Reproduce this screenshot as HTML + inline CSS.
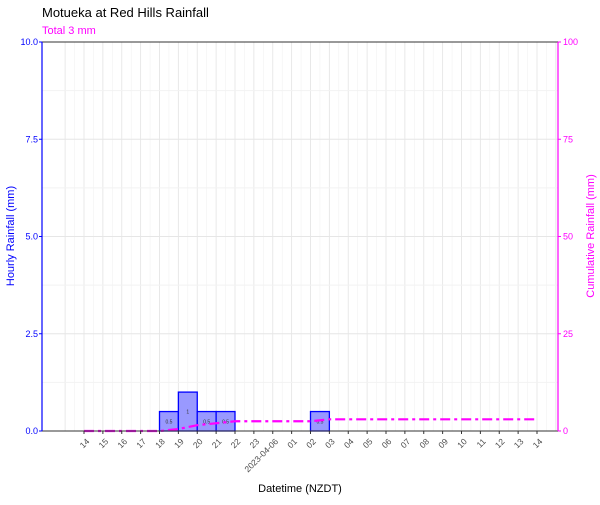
<!DOCTYPE html>
<html><head><meta charset="utf-8"><style>
body{margin:0;background:#fff}
svg{font-family:"Liberation Sans",sans-serif}
</style></head><body>
<svg id="c" width="600" height="500" xmlns="http://www.w3.org/2000/svg">
<text x="42" y="17" font-size="13" fill="#000">Motueka at Red Hills Rainfall</text>
<text x="42" y="34" font-size="11" fill="#ff00ff">Total 3 mm</text>
<g id="grid"></g><g id="bars"></g><g id="line"></g><g id="axes"></g>
<text transform="translate(14,236) rotate(-90)" text-anchor="middle" font-size="11" fill="#0000ff">Hourly Rainfall (mm)</text>
<text transform="translate(594,236) rotate(-90)" text-anchor="middle" font-size="11" fill="#ff00ff">Cumulative Rainfall (mm)</text>
<text x="300" y="492" text-anchor="middle" font-size="11" fill="#000">Datetime (NZDT)</text>
</svg>
<script>
const hourLabels=["14","15","16","17","18","19","20","21","22","23","2023-04-06","01","02","03","04","05","06","07","08","09","10","11","12","13","14"];
const barHours=[4,5,6,7,12];
const barValues=[0.5,1,0.5,0.5,0.5];
const cumValues=[0,0,0,0,0,0.5,1.5,2,2.5,2.5,2.5,2.5,2.5,3,3,3,3,3,3,3,3,3,3,3,3];
const leftTicks=[0,2.5,5,7.5,10];
const rightTicks=[0,25,50,75,100];
const L=42,R=558,T=42,B=431,x0=84,step=18.875;
const X=i=>x0+i*step, Y=v=>B-(v/10)*(B-T), Y2=v=>B-(v/100)*(B-T);
const NS="http://www.w3.org/2000/svg";
function mk(p,tag,a){const e=document.createElementNS(NS,tag);for(const k in a)e.setAttribute(k,a[k]);document.getElementById(p).appendChild(e);return e;}
for(let h=-2;h<=51;h++){const x=x0+h*step/2;if(x<=L||x>=R)continue;
 const g=mk('grid','line',{x1:x,x2:x,y1:T,y2:B,stroke:h%2?'#f2f2f2':'#e6e6e6','stroke-width':h%2?0.6:0.9});
 }
for(let v=0;v<=10;v+=1.25){const g=mk('grid','line',{x1:L,x2:R,y1:Y(v),y2:Y(v),stroke:(v%2.5)?'#f2f2f2':'#e6e6e6','stroke-width':0.9});
 }
barValues.forEach((v,i)=>{const h=barHours[i];
 const r=mk('bars','rect',{x:X(h),y:Y(v),width:step,height:B-Y(v),fill:'#9999ff',stroke:'#0000ff','stroke-width':1.3});
 
 const t=mk('bars','text',{x:X(h)+step/2,y:(Y(v)+B)/2+2,'font-size':5,'text-anchor':'middle',fill:'#333'});t.textContent=v;
 });
const pl=mk('line','polyline',{points:cumValues.map((v,i)=>X(i)+','+Y2(v)).join(' '),fill:'none',stroke:'#ff00ff','stroke-width':2.2,'stroke-dasharray':'10 4 3 4'});

let a;
a=mk('axes','line',{x1:L,x2:R,y1:T,y2:T,stroke:'#333','stroke-width':1});
a=mk('axes','line',{x1:L,x2:R,y1:B,y2:B,stroke:'#333','stroke-width':1});
a=mk('axes','line',{x1:L,x2:L,y1:T,y2:B,stroke:'#0000ff','stroke-width':1.2});
a=mk('axes','line',{x1:R,x2:R,y1:T,y2:B,stroke:'#ff00ff','stroke-width':1.2});
leftTicks.forEach(v=>{a=mk('axes','line',{x1:L-3,x2:L,y1:Y(v),y2:Y(v),stroke:'#0000ff'});
 const t=mk('axes','text',{x:L-4,y:Y(v)+3,'font-size':9,'text-anchor':'end',fill:'#0000ff'});t.textContent=v.toFixed(1);});
rightTicks.forEach(v=>{a=mk('axes','line',{x1:R,x2:R+3,y1:Y2(v),y2:Y2(v),stroke:'#ff00ff'});
 const t=mk('axes','text',{x:R+5,y:Y2(v)+3,'font-size':9,fill:'#ff00ff'});t.textContent=v;});
hourLabels.forEach((s,i)=>{const x=X(i);a=mk('axes','line',{x1:x,x2:x,y1:B,y2:B+3,stroke:'#333'});
 const t=mk('axes','text',{transform:`translate(${x+6},${B+11}) rotate(-45)`,'font-size':8.5,'text-anchor':'end',fill:'#4d4d4d'});t.textContent=s;});
</script>
</body></html>
